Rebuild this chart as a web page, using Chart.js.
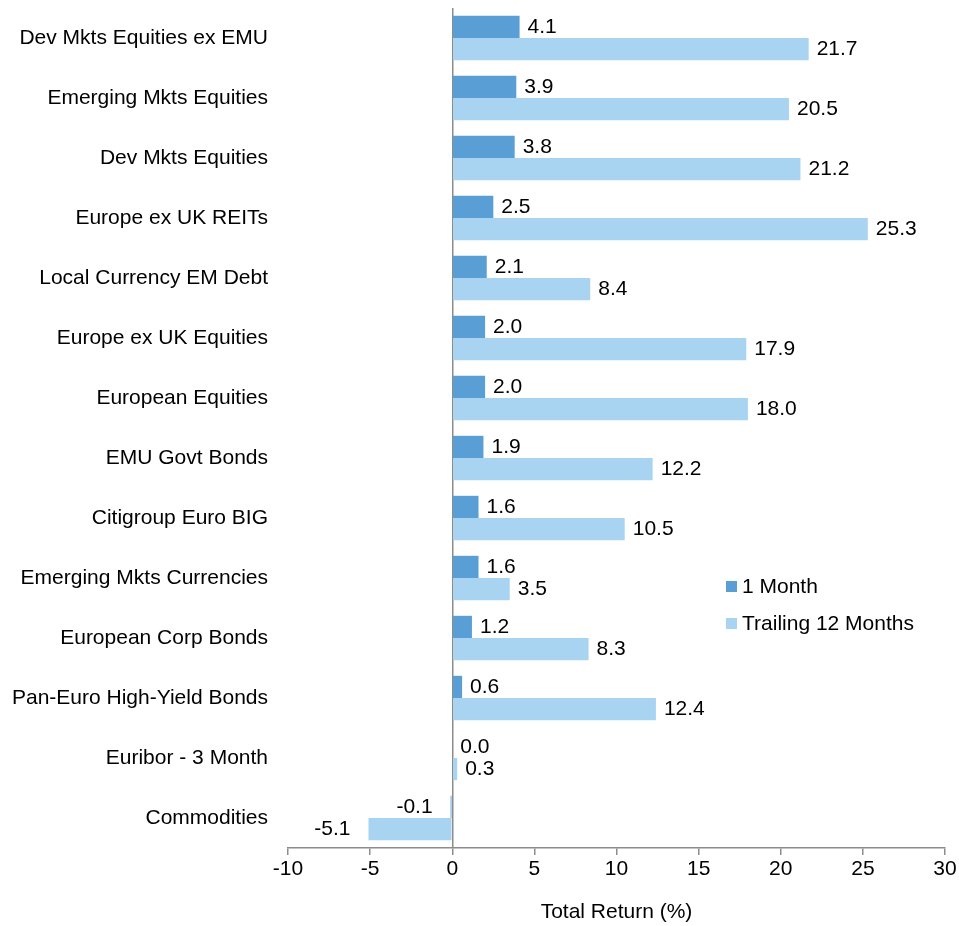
<!DOCTYPE html>
<html>
<head>
<meta charset="utf-8">
<script src="https://cdn.jsdelivr.net/npm/chart.js@4.4.1/dist/chart.umd.min.js"></script>
<style>
  html, body { margin: 0; padding: 0; background: #fff; }
  #wrap { width: 959px; height: 926px; }
</style>
</head>
<body>
<div id="wrap"><canvas id="returns"></canvas></div>
<script>
// asset classes, top to bottom
const categories = [
  'Dev Mkts Equities ex EMU',
  'Emerging Mkts Equities',
  'Dev Mkts Equities',
  'Europe ex UK REITs',
  'Local Currency EM Debt',
  'Europe ex UK Equities',
  'European Equities',
  'EMU Govt Bonds',
  'Citigroup Euro BIG',
  'Emerging Mkts Currencies',
  'European Corp Bonds',
  'Pan-Euro High-Yield Bonds',
  'Euribor - 3 Month',
  'Commodities'
];
const oneMonth = [4.1, 3.9, 3.8, 2.5, 2.1, 2.0, 2.0, 1.9, 1.6, 1.6, 1.2, 0.6, 0.0, -0.1];
const trailing12 = [21.7, 20.5, 21.2, 25.3, 8.4, 17.9, 18.0, 12.2, 10.5, 3.5, 8.3, 12.4, 0.3, -5.1];
const xTicks = { min: -10, max: 30, step: 5 };

const FONT = 'Liberation Sans, Arial, Helvetica, sans-serif';
const FONT_SIZE = 21;
const DARK = '#5a9ed6';
const LIGHT = '#a8d4f2';
const AXIS = '#8c8c8c';

// value printed just past the end of each bar
const barValues = {
  id: 'barValues',
  afterDatasetsDraw(chart) {
    const ctx = chart.ctx;
    ctx.save();
    ctx.font = FONT_SIZE + 'px ' + FONT;
    ctx.fillStyle = '#000';
    ctx.textBaseline = 'middle';
    chart.data.datasets.forEach((ds, i) => {
      chart.getDatasetMeta(i).data.forEach((bar, j) => {
        const v = ds.data[j];
        if (v < 0) {
          ctx.textAlign = 'right';
          ctx.fillText(v.toFixed(1), bar.x - 18, bar.y);
        } else {
          ctx.textAlign = 'left';
          ctx.fillText(v.toFixed(1), bar.x + 8, bar.y);
        }
      });
    });
    ctx.restore();
  }
};

// legend sits inside the plot, right of the short bars
const innerLegend = {
  id: 'innerLegend',
  afterDraw(chart) {
    const ctx = chart.ctx;
    const x = 726, y0 = 586, gap = 37;
    ctx.save();
    ctx.font = FONT_SIZE + 'px ' + FONT;
    ctx.textBaseline = 'middle';
    ctx.textAlign = 'left';
    chart.data.datasets.forEach((ds, i) => {
      const y = y0 + i * gap;
      ctx.fillStyle = ds.backgroundColor;
      ctx.fillRect(x, y - 5, 11, 11);
      ctx.fillStyle = '#000';
      ctx.fillText(ds.label, x + 16, y + 1);
    });
    ctx.restore();
  }
};

new Chart(document.getElementById('returns'), {
  type: 'bar',
  data: {
    labels: categories,
    datasets: [
      { label: '1 Month', data: oneMonth, backgroundColor: DARK },
      { label: 'Trailing 12 Months', data: trailing12, backgroundColor: LIGHT }
    ]
  },
  options: {
    indexAxis: 'y',
    responsive: true,
    maintainAspectRatio: false,
    animation: false,
    layout: { padding: { top: 8, right: 14, left: 8, bottom: 0 } },
    datasets: {
      bar: { categoryPercentage: 0.74, barPercentage: 1.0 }
    },
    plugins: {
      legend: { display: false },
      tooltip: { enabled: false }
    },
    scales: {
      x: {
        min: xTicks.min,
        max: xTicks.max,
        ticks: {
          stepSize: xTicks.step,
          color: '#000',
          font: { family: FONT, size: FONT_SIZE },
          padding: 2
        },
        grid: {
          color: c => (c.tick && c.tick.value === 0 ? AXIS : 'rgba(0,0,0,0)'),
          tickColor: AXIS,
          tickLength: 7,
          lineWidth: 1.5
        },
        border: { color: AXIS, width: 1.5 },
        title: {
          display: true,
          text: 'Total Return (%)',
          color: '#000',
          font: { family: FONT, size: FONT_SIZE },
          padding: { top: 0, bottom: 1 }
        },
        afterFit(scale) {
          scale.height = 78;
          scale.paddingLeft = 0;
          scale.paddingRight = 0;
        }
      },
      y: {
        ticks: {
          color: '#000',
          font: { family: FONT, size: FONT_SIZE },
          padding: 20
        },
        grid: { display: false, drawTicks: false },
        border: { display: false },
        afterFit(scale) {
          scale.width = 280;
          scale.paddingTop = 0;
          scale.paddingBottom = 0;
        }
      }
    }
  },
  plugins: [barValues, innerLegend]
});
</script>
</body>
</html>
